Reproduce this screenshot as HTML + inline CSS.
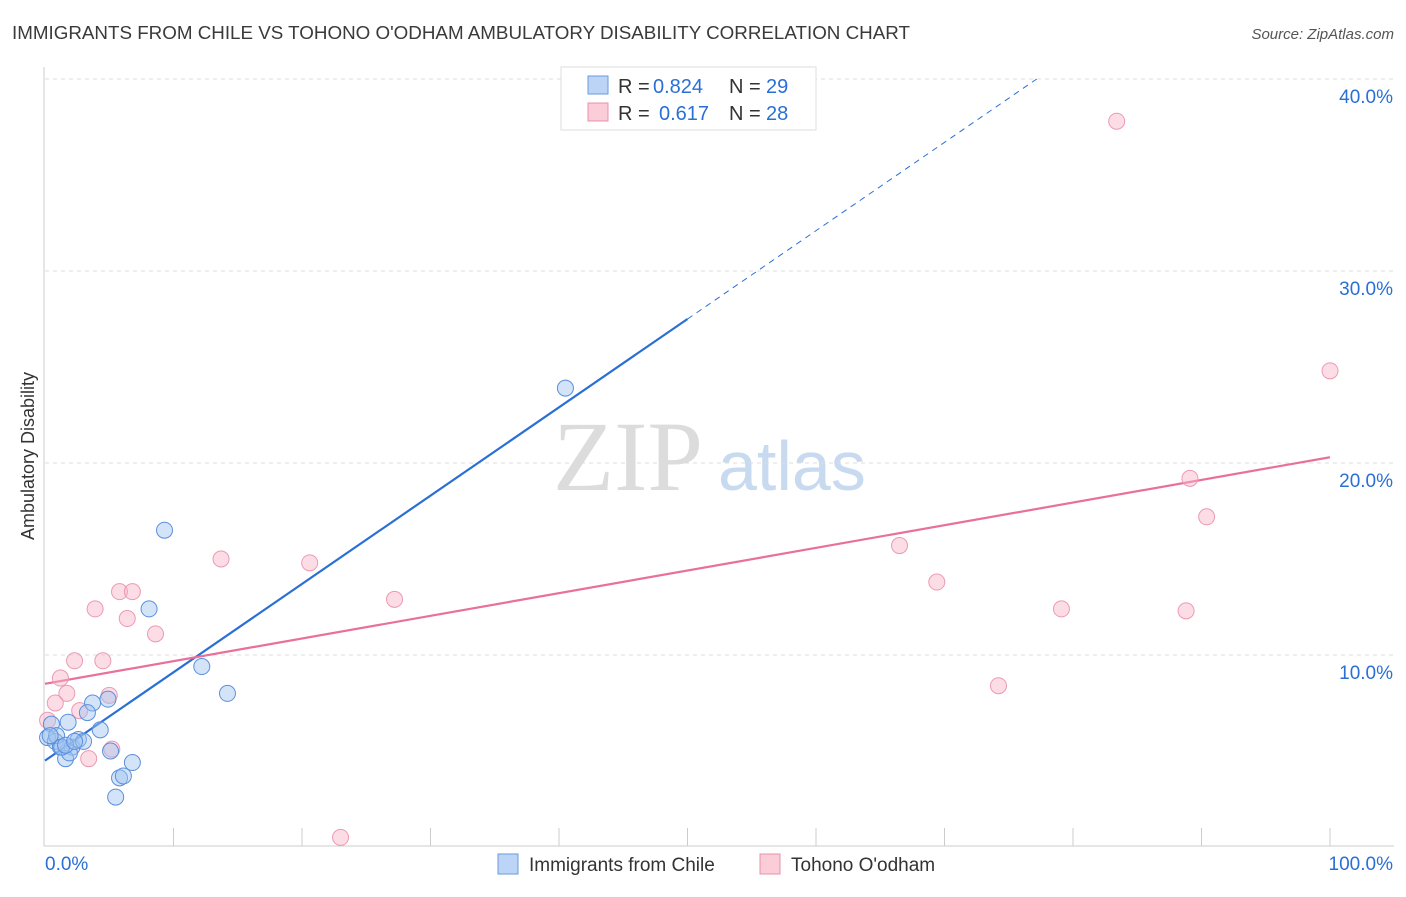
<!DOCTYPE html>
<html><head><meta charset="utf-8"><style>
body{margin:0;background:#fff;font-family:"Liberation Sans",sans-serif}
</style></head><body>
<svg id="c" width="1406" height="892" style="font-family:'Liberation Sans',sans-serif">
<text x="12" y="39" font-size="18.8" fill="#3a3a3a">IMMIGRANTS FROM CHILE VS TOHONO O'ODHAM AMBULATORY DISABILITY CORRELATION CHART</text>
<text x="1394" y="39" font-size="15" fill="#555" font-style="italic" text-anchor="end">Source: ZipAtlas.com</text>
<text x="34" y="456" font-size="18" fill="#333" text-anchor="middle" transform="rotate(-90 34 456)">Ambulatory Disability</text>
<text x="553" y="490" font-size="100" fill="#dcdcdc" style="font-family:'Liberation Serif',serif">ZIP</text>
<text x="718" y="490" font-size="70" fill="#c8daf0">atlas</text>
<g id="grid"></g><g id="axes"></g><g id="lines"></g><g id="pts"></g>
<g>
<rect x="561" y="67" width="255" height="63" fill="#fff" stroke="#ddd"/>
<rect x="588" y="76" width="20" height="18" fill="#bcd4f5" stroke="#6a9ae0"/>
<text x="618" y="93" font-size="20" fill="#333">R =</text>
<text x="653" y="93" font-size="20" fill="#2a6fd6">0.824</text>
<text x="729" y="93" font-size="20" fill="#333">N =</text>
<text x="766" y="93" font-size="20" fill="#2a6fd6">29</text>
<rect x="588" y="103" width="20" height="18" fill="#fbcdd9" stroke="#e890a8"/>
<text x="618" y="120" font-size="20" fill="#333">R =</text>
<text x="659" y="120" font-size="20" fill="#2a6fd6">0.617</text>
<text x="729" y="120" font-size="20" fill="#333">N =</text>
<text x="766" y="120" font-size="20" fill="#2a6fd6">28</text>
</g>
<g>
<rect x="498" y="854" width="20" height="20" fill="#bcd4f5" stroke="#6a9ae0"/>
<text x="529" y="871" font-size="19" fill="#333">Immigrants from Chile</text>
<rect x="760" y="854" width="20" height="20" fill="#fbcdd9" stroke="#e890a8"/>
<text x="791" y="871" font-size="19" fill="#333">Tohono O'odham</text>
</g>
</svg>
<script>
const blueX=[40.5,9.3,8.1,12.2,14.2,3.7,4.9,3.3,4.3,1.8,0.5,0.2,0.8,1.2,2.1,2.6,3.0,1.6,1.9,5.1,6.8,5.8,6.1,5.5,0.9,0.4,1.3,1.6,2.3];
const blueY=[23.9,16.5,12.4,9.4,8.0,7.5,7.7,7.0,6.1,6.5,6.4,5.7,5.5,5.2,5.2,5.6,5.5,4.6,4.9,5.0,4.4,3.6,3.7,2.6,5.8,5.8,5.2,5.3,5.5];
const pinkX=[83.4,100,89.1,90.4,66.5,69.4,79.1,88.8,74.2,23.0,13.7,20.6,27.2,5.8,6.8,3.9,6.4,8.6,2.3,4.5,1.2,1.7,0.8,5.0,2.7,0.2,5.2,3.4];
const pinkY=[37.8,24.8,19.2,17.2,15.7,13.8,12.4,12.3,8.4,0.5,15.0,14.8,12.9,13.3,13.3,12.4,11.9,11.1,9.7,9.7,8.8,8.0,7.5,7.9,7.1,6.6,5.1,4.6];
const yTicks=[10,20,30,40];
const blueTrend=[4.5,27.5]; // y at x=0 and x=50
const pinkTrend=[8.5,20.3]; // y at x=0 and x=100
const NS="http://www.w3.org/2000/svg";
const sx=v=>45+v*12.85, sy=v=>847-v*19.2;
function mk(t,a,p){const e=document.createElementNS(NS,t);for(const k in a)e.setAttribute(k,a[k]);document.getElementById(p).appendChild(e);return e;}
yTicks.forEach(t=>{
 const g=mk('line',{x1:45,x2:1394,y1:sy(t),y2:sy(t),stroke:'#ddd','stroke-dasharray':'4,4'},'grid');
 
 
 const l=mk('text',{x:1393,y:sy(t)+24,'font-size':19,fill:'#2a6fd6','text-anchor':'end'},'grid');l.textContent=t.toFixed(1)+'%';
 
 
});
mk('line',{x1:44,x2:44,y1:67,y2:846,stroke:'#ccc'},'axes');
mk('line',{x1:44,x2:1394,y1:846,y2:846,stroke:'#ccc'},'axes');
for(let i=1;i<=10;i++){mk('line',{x1:sx(i*10),x2:sx(i*10),y1:828,y2:846,stroke:'#ccc'},'axes');}
let t0=mk('text',{x:45,y:870,'font-size':19,fill:'#2a6fd6'},'axes');t0.textContent='0.0%';


let t1=mk('text',{x:1393,y:870,'font-size':19,fill:'#2a6fd6','text-anchor':'end'},'axes');t1.textContent='100.0%';


const bs=(blueTrend[1]-blueTrend[0])/50;
let bl=mk('line',{x1:sx(0),y1:sy(blueTrend[0]),x2:sx(50),y2:sy(blueTrend[1]),stroke:'#2a6fd6','stroke-width':2.2},'lines');


const xe=(40-blueTrend[0])/bs;
let bd=mk('line',{x1:sx(50),y1:sy(blueTrend[1]),x2:sx(xe),y2:sy(40),stroke:'#2a6fd6','stroke-width':1,'stroke-dasharray':'6,5'},'lines');


let pl=mk('line',{x1:sx(0),y1:sy(pinkTrend[0]),x2:sx(100),y2:sy(pinkTrend[1]),stroke:'#e8709a','stroke-width':2.2},'lines');


pinkX.forEach((x,i)=>{const c=mk('circle',{cx:sx(x),cy:sy(pinkY[i]),r:8,fill:'rgba(248,180,200,0.45)',stroke:'#eb9ab3','stroke-width':1},'pts');
 
 });
blueX.forEach((x,i)=>{const c=mk('circle',{cx:sx(x),cy:sy(blueY[i]),r:8,fill:'rgba(160,195,240,0.45)',stroke:'#5a8fdc','stroke-width':1},'pts');
 
 });
</script>
</body></html>
